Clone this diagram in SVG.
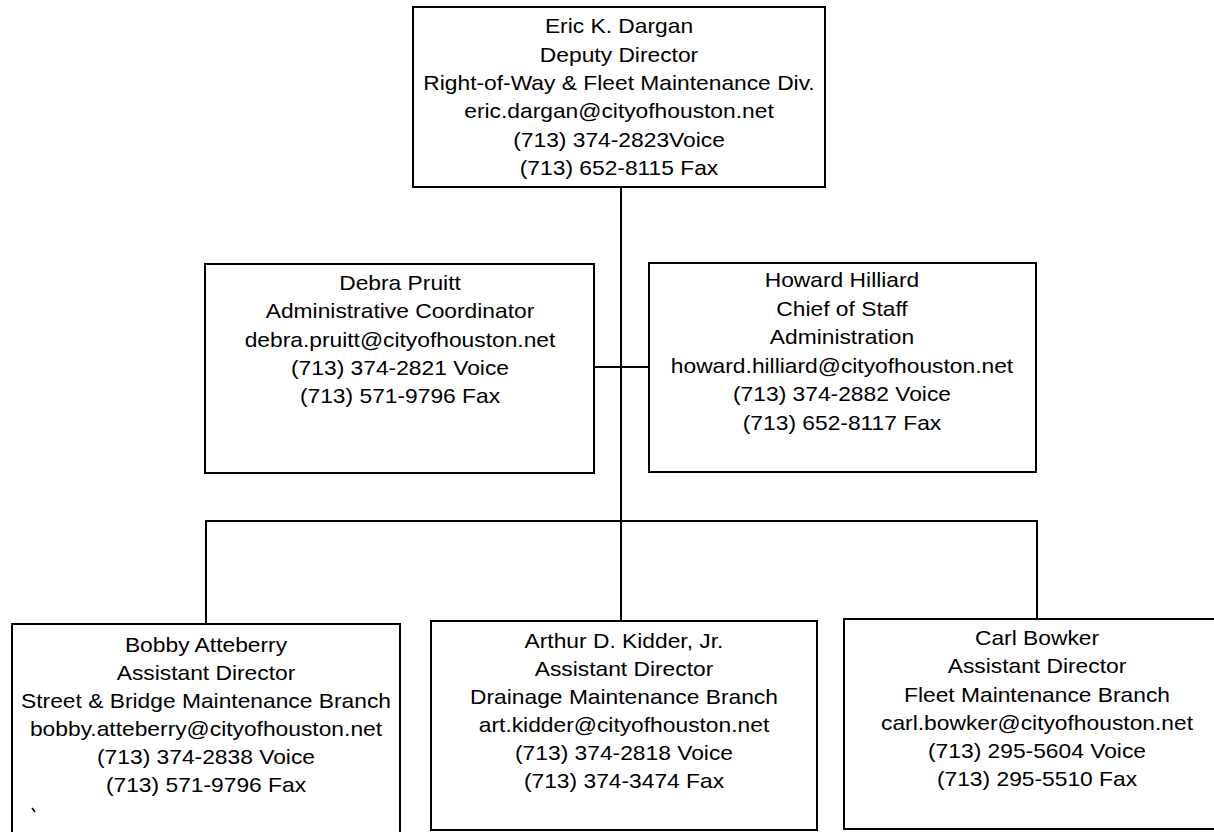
<svg xmlns="http://www.w3.org/2000/svg" width="1214" height="832" viewBox="0 0 1214 832">
<style>
.box{fill:#fff;stroke:#000;stroke-width:2}
.ln{fill:none;stroke:#000;stroke-width:2}
text{font-family:"Liberation Sans",Arial,sans-serif;font-size:20px;fill:#000;text-anchor:middle}
</style>
<rect width="1214" height="832" fill="#fff"/>
<g id="connectors">
<line class="ln" x1="621" y1="187" x2="621" y2="621"/>
<line class="ln" x1="594" y1="367" x2="649" y2="367"/>
<line class="ln" x1="206" y1="521" x2="1037" y2="521"/>
<line class="ln" x1="206" y1="520" x2="206" y2="624"/>
<line class="ln" x1="1037" y1="520" x2="1037" y2="619"/>
</g>
<g id="n-dargan">
<rect class="box" x="413" y="7" width="412" height="180"/>
<g transform="translate(619 0) scale(1.14 1)">
<text x="0" y="33">Eric K. Dargan</text>
<text x="0" y="62">Deputy Director</text>
<text x="0" y="90">Right-of-Way &amp; Fleet Maintenance Div.</text>
<text x="0" y="118">eric.dargan@cityofhouston.net</text>
<text x="0" y="147">(713) 374-2823Voice</text>
<text x="0" y="175">(713) 652-8115 Fax</text>
</g>
</g>
<g id="n-pruitt">
<rect class="box" x="205" y="264" width="389" height="209"/>
<g transform="translate(400 0) scale(1.14 1)">
<text x="0" y="290">Debra Pruitt</text>
<text x="0" y="318">Administrative Coordinator</text>
<text x="0" y="347">debra.pruitt@cityofhouston.net</text>
<text x="0" y="375">(713) 374-2821 Voice</text>
<text x="0" y="403">(713) 571-9796 Fax</text>
</g>
</g>
<g id="n-hilliard">
<rect class="box" x="649" y="263" width="387" height="209"/>
<g transform="translate(842 0) scale(1.14 1)">
<text x="0" y="287">Howard Hilliard</text>
<text x="0" y="316">Chief of Staff</text>
<text x="0" y="344">Administration</text>
<text x="0" y="373">howard.hilliard@cityofhouston.net</text>
<text x="0" y="401">(713) 374-2882 Voice</text>
<text x="0" y="430">(713) 652-8117 Fax</text>
</g>
</g>
<g id="n-atteberry">
<rect class="box" x="12" y="624" width="388" height="216"/>
<g transform="translate(206 0) scale(1.14 1)">
<text x="0" y="652">Bobby Atteberry</text>
<text x="0" y="680">Assistant Director</text>
<text x="0" y="708">Street &amp; Bridge Maintenance Branch</text>
<text x="0" y="736">bobby.atteberry@cityofhouston.net</text>
<text x="0" y="764">(713) 374-2838 Voice</text>
<text x="0" y="792">(713) 571-9796 Fax</text>
</g>
<path d="M32 808 L35 812" stroke="#000" stroke-width="1.5"/>
</g>
<g id="n-kidder">
<rect class="box" x="431" y="621" width="386" height="209"/>
<g transform="translate(624 0) scale(1.14 1)">
<text x="0" y="648">Arthur D. Kidder, Jr.</text>
<text x="0" y="676">Assistant Director</text>
<text x="0" y="704">Drainage Maintenance Branch</text>
<text x="0" y="732">art.kidder@cityofhouston.net</text>
<text x="0" y="760">(713) 374-2818 Voice</text>
<text x="0" y="788">(713) 374-3474 Fax</text>
</g>
</g>
<g id="n-bowker">
<rect class="box" x="844" y="619" width="390" height="210"/>
<g transform="translate(1037 0) scale(1.14 1)">
<text x="0" y="645">Carl Bowker</text>
<text x="0" y="673">Assistant Director</text>
<text x="0" y="702">Fleet Maintenance Branch</text>
<text x="0" y="730">carl.bowker@cityofhouston.net</text>
<text x="0" y="758">(713) 295-5604 Voice</text>
<text x="0" y="786">(713) 295-5510 Fax</text>
</g>
</g>
</svg>
